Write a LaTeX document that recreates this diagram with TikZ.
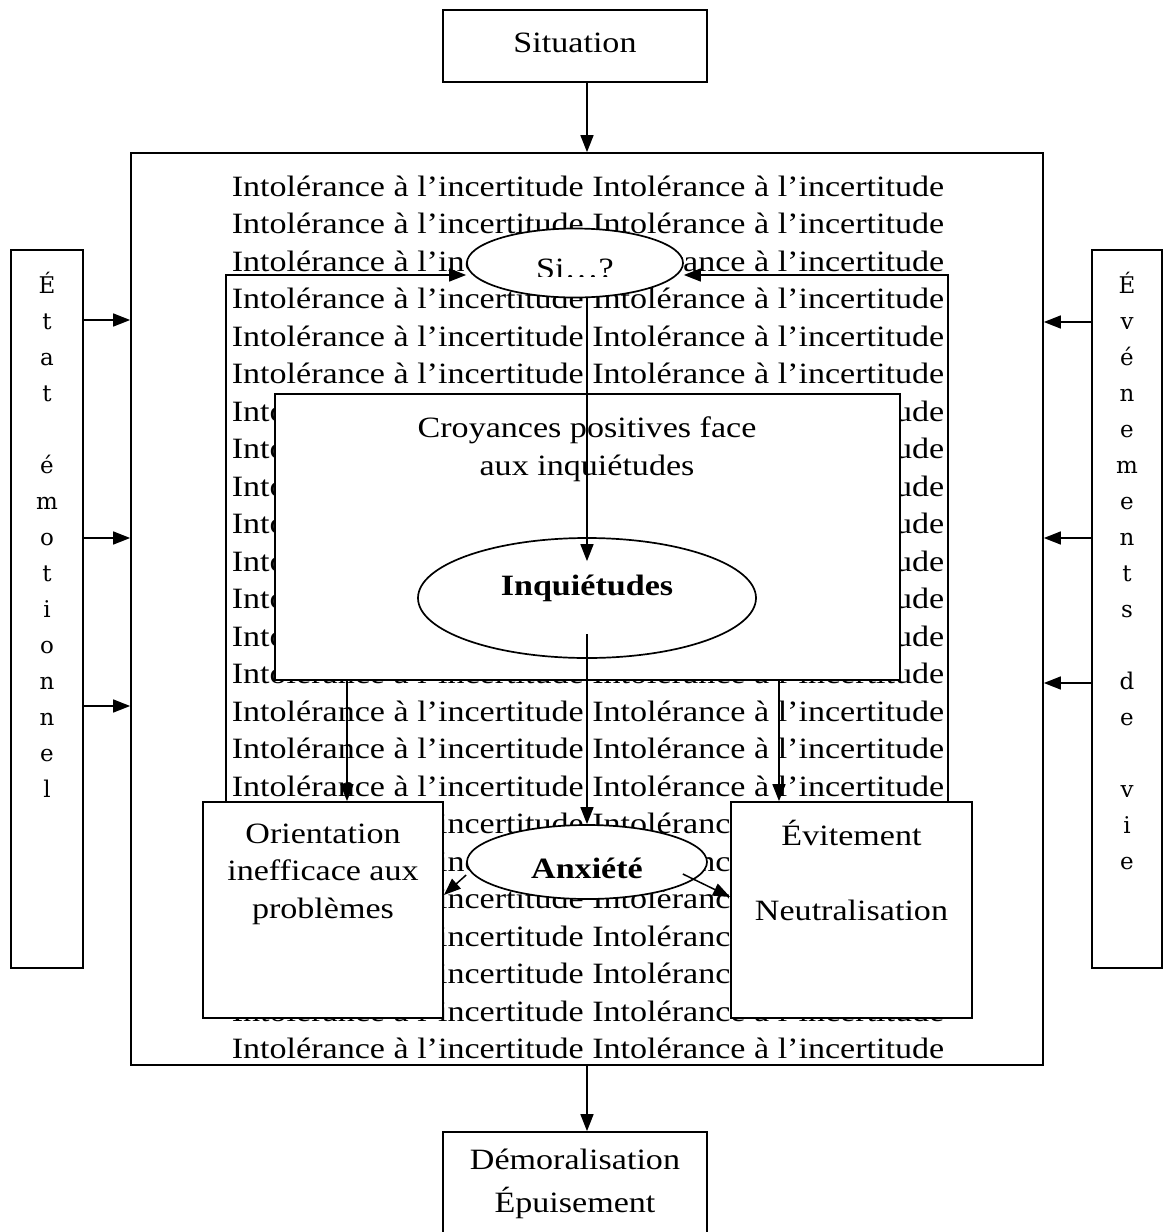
\documentclass[tikz,border=0pt]{standalone}
\usepackage{fontspec}
\setmainfont{Liberation Serif}[FakeStretch=1.155]
\newfontfamily\sidefont{DejaVu Serif}
\usetikzlibrary{arrows.meta,shapes.geometric}
\begin{document}
\begin{tikzpicture}[x=1pt,y=-1pt,
  lw/.style={line width=1.7pt},
  box/.style={draw,line width=1.7pt,fill=white,inner sep=0pt},
  oval/.style={ellipse,draw,line width=1.7pt,fill=white,inner sep=0pt},
  txt/.style={font=\fontsize{29.5pt}{37.5pt}\selectfont,align=center,inner sep=0pt},
  boldtxt/.style={font=\fontsize{29.5pt}{37.5pt}\selectfont\bfseries,inner sep=0pt},
  side/.style={font=\sidefont\fontsize{23pt}{36pt}\selectfont,align=center,inner sep=0pt},
  arr/.style={line width=1.5pt,-{Triangle[length=17pt,width=13pt]}}]
\useasboundingbox (0,0) rectangle (1164,1232);
% helper heights
\path (0,320) coordinate (h1) (0,538) coordinate (h2) (0,706) coordinate (h3)
      (0,322) coordinate (k1) (0,538) coordinate (k2) (0,683) coordinate (k3);
\coordinate (fl) at (226,275);
\coordinate (fr) at (948,275);
% outer frame
\node[draw,lw,minimum width=912pt,minimum height=912pt,inner sep=0pt] (outer) at (587,609) {};
% background text
\begin{scope}
\clip (outer.north west) rectangle (outer.south east);
\foreach \k in {0,...,23}
  \node[txt,anchor=base] (bg\k) at (588,196+37.5*\k) {Intolérance à l’incertitude Intolérance à l’incertitude};
\end{scope}
% top / bottom boxes
\node[box,minimum width=264pt,minimum height=72pt] (sit) at (575,46) {};
\node[txt] (sittxt) at (575,43) {Situation};
\node[box,minimum width=264pt,minimum height=120pt] (dem) at (575,1192) {};
\node[txt] (demtxt) at (575,1184) {Démoralisation\\[5.5pt]Épuisement};
% side boxes
\node[box,minimum width=72pt,minimum height=718pt] (etat) at (47,609) {};
\node[box,minimum width=70pt,minimum height=718pt] (evt) at (1127,609) {};
\node[side] (etattxt) at (47,535) {É\\t\\a\\t\\\strut\\é\\m\\o\\t\\i\\o\\n\\n\\e\\l};
\node[side] (evttxt) at (1127,571) {É\\v\\é\\n\\e\\m\\e\\n\\t\\s\\\strut\\d\\e\\\strut\\v\\i\\e};
% inner nodes
\node[box,minimum width=625pt,minimum height=286pt] (croy) at (587.5,537) {};
\node[txt] (croytxt) at (587,449) {Croyances positives face\\aux inquiétudes};
\node[oval,minimum width=338pt,minimum height=120pt] (inq) at (587,598) {};
\node[boldtxt] (inqtxt) at (587,588) {Inquiétudes};
\node[box,minimum width=240pt,minimum height=216pt] (ori) at (323,910) {};
\node[txt] (oritxt) at (323,874) {Orientation\\inefficace aux\\problèmes};
\node[box,minimum width=241pt,minimum height=216pt] (evi) at (851.5,910) {};
\node[txt] (evitxt) at (851.5,870) {Évitement\\[37.5pt]Neutralisation};
\node[oval,minimum width=240pt,minimum height=74pt] (anx) at (587,862) {};
\node[boldtxt] (anxtxt) at (587,868) {Anxiété};
\node[oval,minimum width=216pt,minimum height=69pt] (si) at (575,263) {};
\begin{scope}
\clip (467,240) rectangle (683,276.5);
\node[txt,anchor=base] (sitxt) at (575,278) {Si…?};
\end{scope}
% connectors
\draw[arr] (sit.south -| outer.north) -- (outer.north);
\draw[arr] (outer.south) -- (outer.south |- dem.north);
\foreach \h in {h1,h2,h3} \draw[arr] (etat.east |- \h) -- (outer.west |- \h);
\foreach \h in {k1,k2,k3} \draw[arr] (evt.west |- \h) -- (outer.east |- \h);
\draw[arr] (ori.north -| fl) -- (fl) -- (si.west |- fl);
\draw[arr] (evi.north -| fr) -- (fr) -- (si.east |- fr);
\draw[arr] (si.south -| inq.north) -- ([yshift=-24pt]inq.north);
\draw[arr] ([yshift=-36pt]inq.center) -- (anx.north);
\draw[arr] ([xshift=-240.5pt]croy.south) -- ([xshift=-240.5pt]croy.south |- ori.north);
\draw[arr] ([xshift=191.5pt]croy.south) -- ([xshift=191.5pt]croy.south |- evi.north);
\draw[arr] ([yshift=-13pt]anx.west) -- ([yshift=15pt]ori.east);
\draw[arr] ([xshift=-25pt,yshift=-12pt]anx.east) -- ([yshift=13pt]evi.west);
\end{tikzpicture}
\end{document}
